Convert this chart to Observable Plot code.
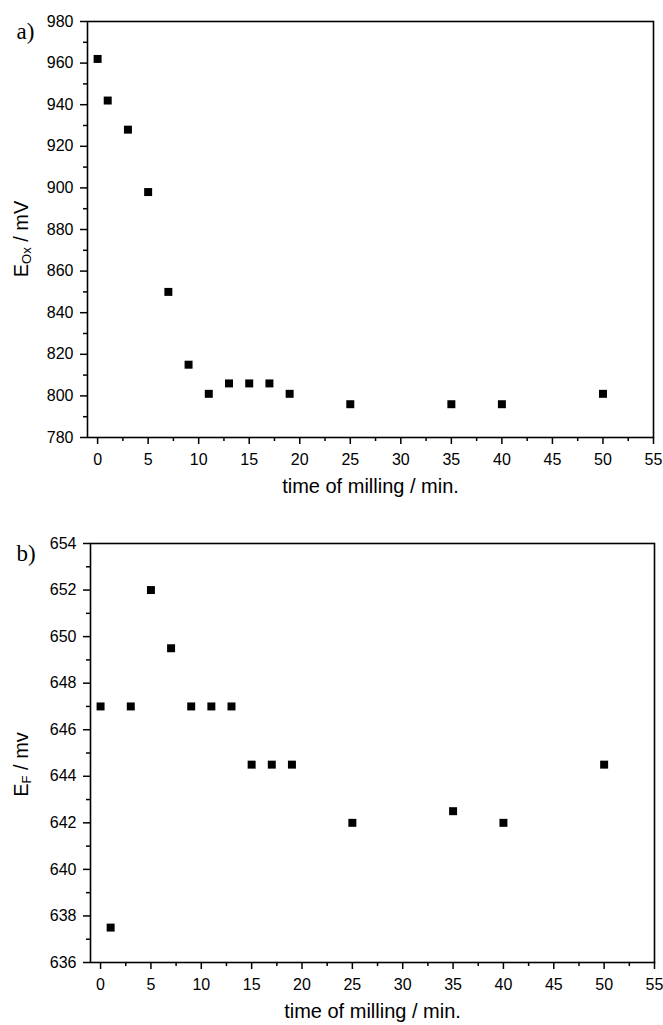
<!DOCTYPE html>
<html>
<head>
<meta charset="utf-8">
<script src="https://cdn.jsdelivr.net/npm/d3@7"></script>
<script src="https://cdn.jsdelivr.net/npm/@observablehq/plot@0.6"></script>
<style>
  html, body { margin: 0; padding: 0; background: #fff; }
  #chart svg { display: block; }
</style>
</head>
<body>
<div id="chart"></div>
<script>
// Data
const times = [0, 1, 3, 5, 7, 9, 11, 13, 15, 17, 19, 25, 35, 40, 50];
const eOx   = [962, 942, 928, 898, 850, 815, 801, 806, 806, 806, 801, 796, 796, 796, 801];
const eF    = [647, 637.5, 647, 652, 649.5, 647, 647, 647, 644.5, 644.5, 644.5, 642, 642.5, 642, 644.5];

const xTicks      = [0, 5, 10, 15, 20, 25, 30, 35, 40, 45, 50, 55];
const xMinorTicks = [2.5, 7.5, 12.5, 17.5, 22.5, 27.5, 32.5, 37.5, 42.5, 47.5, 52.5];
const yTicksA      = [780, 800, 820, 840, 860, 880, 900, 920, 940, 960, 980];
const yMinorTicksA = [790, 810, 830, 850, 870, 890, 910, 930, 950, 970];
const yTicksB      = [636, 638, 640, 642, 644, 646, 648, 650, 652, 654];
const yMinorTicksB = [637, 639, 641, 643, 645, 647, 649, 651, 653];

const xTitle = "time of milling / min.";

const tableA = times.map((t, i) => ({t, v: eOx[i]}));
const tableB = times.map((t, i) => ({t, v: eF[i]}));

function panel({data, yDomain, yTicks, yMinor, tag, yMain, ySub, yUnit, height, mTop, mBottom, mLeft, mRight, titleShift}) {
  const svg = Plot.plot({
    width: 663,
    height,
    marginTop: mTop,
    marginBottom: mBottom,
    marginLeft: mLeft,
    marginRight: mRight,
    style: {fontFamily: "'Liberation Sans', Arial, sans-serif", fontSize: "16px", background: "white", color: "black", overflow: "visible"},
    x: {domain: [-1, 55]},
    y: {domain: yDomain},
    marks: [
      Plot.axisX({ticks: xTicks, tickSize: 7, tickPadding: 9, strokeWidth: 1.5, label: null}),
      Plot.axisX({ticks: xMinorTicks, tickSize: 4, tickFormat: () => "", strokeWidth: 1.5, label: null}),
      Plot.axisY({ticks: yTicks, tickSize: 7, tickPadding: 7, strokeWidth: 1.5, label: null}),
      Plot.axisY({ticks: yMinor, tickSize: 4, tickFormat: () => "", strokeWidth: 1.5, label: null}),
      Plot.frame({stroke: "black", strokeWidth: 1.6}),
      Plot.dot(data, {x: "t", y: "v", symbol: "square", r: 4.5, fill: "black", stroke: "none"}),
      Plot.text([xTitle], {frameAnchor: "bottom", dy: 55, fontSize: 20, fill: "black"}),
      Plot.text([tag], {frameAnchor: "top-left", dx: -(mLeft - 16), dy: 1, textAnchor: "start", fontSize: 23, fontFamily: "'Liberation Serif', 'Times New Roman', serif", fill: "black"})
    ]
  });
  // y-axis title with subscript
  const cy = mTop + (height - mTop - mBottom) / 2 + titleShift;
  const t = d3.select(svg).append("text")
    .attr("transform", `translate(21,${cy}) rotate(-90)`)
    .attr("text-anchor", "middle")
    .attr("dominant-baseline", "central")
    .attr("font-size", 20)
    .attr("fill", "black")
    .attr("font-family", "'Liberation Sans', Arial, sans-serif");
  t.append("tspan").text(yMain);
  t.append("tspan").attr("font-size", 13).attr("dy", 5).text(ySub);
  t.append("tspan").attr("dy", -5).text(" / " + yUnit);
  return svg;
}

const root = document.getElementById("chart");
root.appendChild(panel({
  data: tableA, yDomain: [780, 980], yTicks: yTicksA, yMinor: yMinorTicksA,
  tag: "a)", yMain: "E", ySub: "Ox", yUnit: "mV",
  height: 520, mTop: 21, mBottom: 83, mLeft: 87, mRight: 10, titleShift: 10
}));
root.appendChild(panel({
  data: tableB, yDomain: [636, 654], yTicks: yTicksB, yMinor: yMinorTicksB,
  tag: "b)", yMain: "E", ySub: "F", yUnit: "mv",
  height: 505, mTop: 23, mBottom: 63, mLeft: 90, mRight: 9, titleShift: 12
}));
</script>
</body>
</html>
